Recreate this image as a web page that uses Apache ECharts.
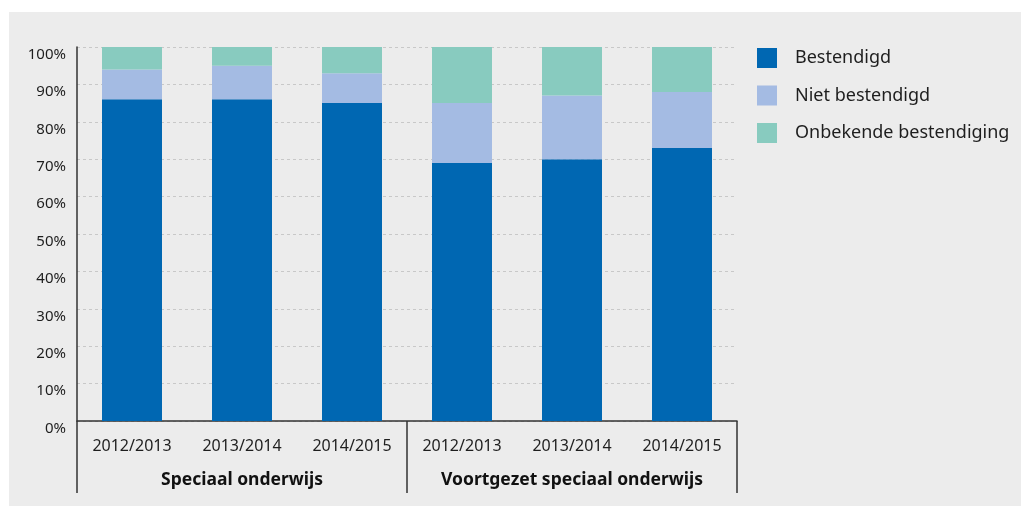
<!DOCTYPE html>
<html>
<head>
<meta charset="utf-8">
<script src="https://cdn.jsdelivr.net/npm/echarts@6/dist/echarts.min.js"></script>
<style>
html,body{margin:0;padding:0;background:#ffffff;}
#bg{position:absolute;left:9px;top:12px;width:1012px;height:494px;background:#ececec;}
#chart{position:absolute;left:0;top:0;width:1021px;height:507px;}
</style>
</head>
<body>
<div id="bg"></div>
<div id="chart"></div>
<script>
const years = ['2012/2013','2013/2014','2014/2015','2012/2013','2013/2014','2014/2015'];
const groups = ['Speciaal onderwijs','Voortgezet speciaal onderwijs'];
const seriesNames = ['Bestendigd','Niet bestendigd','Onbekende bestendiging'];
const bestendigd = [86, 86, 85, 69, 70, 73];
const nietBestendigd = [8, 9, 8, 16, 17, 15];
const onbekend = [6, 5, 7, 15, 13, 12];
const colors = ['#0067b2','#a4bbe3','#88cbbf'];

const font = '"Noto Sans", "Open Sans", sans-serif';
const chart = echarts.init(document.getElementById('chart'), null, {renderer:'canvas'});
const seriesData = [bestendigd, nietBestendigd, onbekend];
chart.setOption({
  animation: false,
  backgroundColor: 'transparent',
  color: colors,
  textStyle: {fontFamily: font},
  grid: {left: 77, right: 284, top: 47, bottom: 86, containLabel: false},
  legend: {
    orient: 'vertical', left: 752, top: 43,
    itemWidth: 20, itemHeight: 20, itemGap: 17.5,
    icon: 'rect',
    data: seriesNames,
    textStyle: {fontSize: 18, color: '#1e1e1e', fontFamily: font, padding: [0,0,0,13]}
  },
  xAxis: [{
    type: 'category', data: years, position: 'bottom',
    axisLine: {show: true, lineStyle: {color: '#333', width: 1.5}},
    axisTick: {show: false},
    axisLabel: {fontSize: 16, color: '#1e1e1e', margin: 17, interval: 0, fontFamily: font}
  },{
    type: 'category', data: groups, position: 'bottom',
    axisLine: {show: false},
    axisTick: {show: true, length: 72, lineStyle: {color: '#333', width: 1.5}},
    axisLabel: {fontSize: 17.5, fontWeight: 'bold', color: '#111', margin: 50, interval: 0, fontFamily: font}
  }],
  yAxis: {
    type: 'value', min: 0, max: 100, interval: 10,
    axisLine: {show: true, lineStyle: {color: '#333', width: 1.5}},
    axisTick: {show: false},
    axisLabel: {formatter: '{value}%', fontSize: 15, color: '#1e1e1e', margin: 11, verticalAlign: 'top', fontFamily: font},
    splitLine: {show: true, lineStyle: {color: '#c8c8c8', type: [3,3], width: 1}}
  },
  series: seriesNames.map((n, i) => ({
    name: n, type: 'bar', stack: 'total', xAxisIndex: 0,
    barWidth: 60, data: seriesData[i],
    itemStyle: {color: colors[i]}
  }))
});
</script>
</body>
</html>
